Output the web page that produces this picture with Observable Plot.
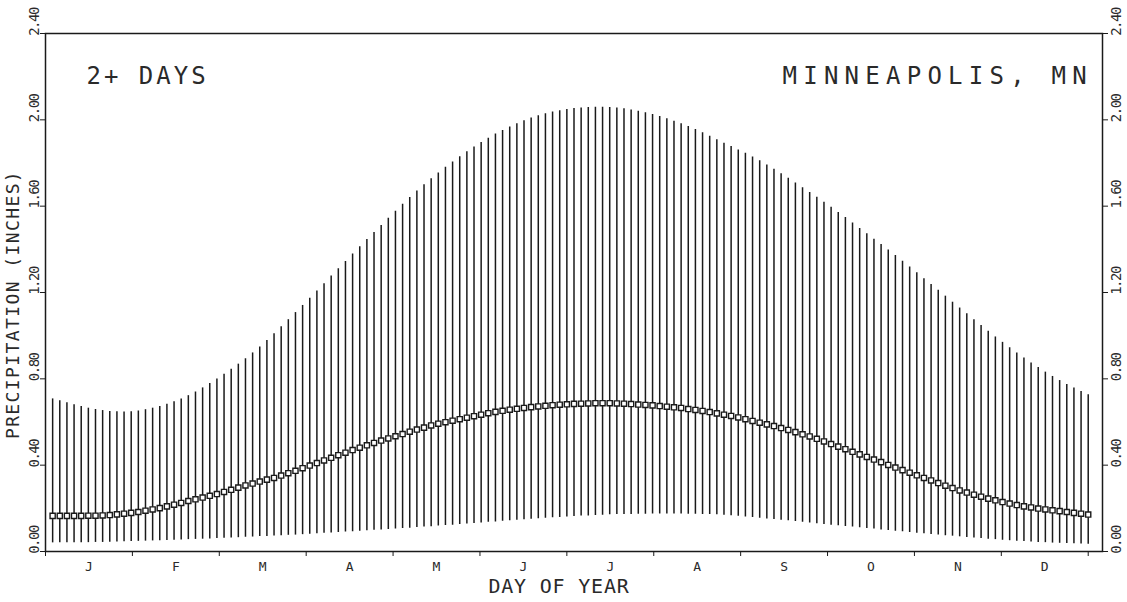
<!DOCTYPE html>
<html><head><meta charset="utf-8">
<script src="https://cdn.jsdelivr.net/npm/d3@7"></script>
<script src="https://cdn.jsdelivr.net/npm/@observablehq/plot@0.6"></script>
<style>body{margin:0;background:#fff;overflow:hidden}</style>
</head><body><div id="chart"></div>
<script>
// Upper end of each bar (inches), one bar every 2.5 days
const highs = [
0.707,0.698,0.689,0.680,0.672,0.664,0.658,0.653,0.649,0.647,
0.646,0.647,0.651,0.657,0.664,0.672,0.682,0.694,0.707,0.722,
0.739,0.758,0.778,0.799,0.821,0.844,0.868,0.893,0.920,0.948,
0.978,1.009,1.041,1.074,1.107,1.140,1.173,1.207,1.241,1.276,
1.310,1.344,1.378,1.412,1.445,1.478,1.511,1.544,1.577,1.609,
1.640,1.670,1.699,1.727,1.754,1.780,1.805,1.829,1.852,1.874,
1.895,1.915,1.934,1.951,1.967,1.982,1.996,2.008,2.019,2.028,
2.036,2.042,2.048,2.052,2.055,2.057,2.058,2.058,2.057,2.055,
2.051,2.046,2.040,2.033,2.025,2.016,2.005,1.994,1.982,1.969,
1.955,1.940,1.924,1.908,1.892,1.876,1.860,1.845,1.828,1.810,
1.791,1.771,1.750,1.729,1.707,1.685,1.663,1.641,1.618,1.595,
1.571,1.547,1.522,1.497,1.472,1.447,1.422,1.397,1.371,1.345,
1.318,1.291,1.264,1.237,1.210,1.183,1.155,1.128,1.101,1.074,
1.047,1.020,0.994,0.969,0.944,0.920,0.896,0.873,0.852,0.831,
0.811,0.792,0.774,0.757,0.741,0.726];
// Lower end of each bar
const lows = [
0.040,0.040,0.040,0.040,0.041,0.041,0.042,0.042,0.043,0.044,
0.045,0.046,0.047,0.048,0.049,0.050,0.051,0.052,0.053,0.055,
0.056,0.057,0.058,0.060,0.061,0.063,0.064,0.066,0.067,0.069,
0.070,0.072,0.073,0.075,0.076,0.078,0.080,0.082,0.084,0.086,
0.088,0.090,0.092,0.094,0.096,0.098,0.100,0.102,0.104,0.106,
0.108,0.111,0.113,0.115,0.118,0.120,0.122,0.125,0.127,0.130,
0.132,0.135,0.137,0.140,0.142,0.145,0.147,0.149,0.152,0.154,
0.156,0.158,0.160,0.162,0.164,0.165,0.167,0.168,0.170,0.171,
0.172,0.172,0.173,0.173,0.174,0.174,0.174,0.174,0.174,0.173,
0.173,0.172,0.171,0.170,0.168,0.166,0.163,0.160,0.157,0.154,
0.151,0.148,0.145,0.142,0.139,0.136,0.132,0.129,0.125,0.122,
0.119,0.116,0.113,0.110,0.107,0.104,0.100,0.097,0.094,0.091,
0.088,0.085,0.082,0.079,0.076,0.073,0.071,0.068,0.065,0.062,
0.060,0.057,0.055,0.052,0.050,0.048,0.046,0.044,0.042,0.041,
0.039,0.038,0.037,0.036,0.035,0.034];
// Mean (square markers)
const means = [
0.165,0.165,0.165,0.165,0.165,0.166,0.166,0.167,0.169,0.172,
0.175,0.179,0.183,0.189,0.195,0.201,0.209,0.217,0.225,0.234,
0.242,0.250,0.258,0.266,0.276,0.286,0.296,0.306,0.315,0.324,
0.333,0.341,0.352,0.363,0.374,0.386,0.398,0.410,0.422,0.434,
0.446,0.458,0.470,0.481,0.492,0.503,0.514,0.524,0.534,0.544,
0.555,0.565,0.574,0.584,0.592,0.599,0.606,0.613,0.620,0.627,
0.634,0.641,0.647,0.652,0.657,0.661,0.665,0.669,0.672,0.675,
0.678,0.680,0.682,0.684,0.685,0.686,0.687,0.687,0.687,0.686,
0.685,0.683,0.681,0.679,0.677,0.674,0.671,0.668,0.665,0.660,
0.656,0.651,0.646,0.640,0.634,0.628,0.621,0.613,0.605,0.597,
0.589,0.581,0.572,0.563,0.553,0.543,0.533,0.522,0.510,0.498,
0.486,0.474,0.462,0.450,0.438,0.426,0.414,0.401,0.389,0.377,
0.365,0.353,0.341,0.329,0.317,0.305,0.294,0.283,0.273,0.263,
0.254,0.245,0.237,0.229,0.222,0.215,0.209,0.204,0.199,0.195,
0.191,0.187,0.183,0.179,0.175,0.171];
const monthLabels = ["J","F","M","A","M","J","J","A","S","O","N","D"];
const yTicks = [0, 0.4, 0.8, 1.2, 1.6, 2.0, 2.4];
const yTickLabels = ["0.00","0.40","0.80","1.20","1.60","2.00","2.40"];
const titleLeft = "2+ DAYS";
const titleRight = "MINNEAPOLIS, MN";
const xTitle = "DAY OF YEAR";
const yTitle = "PRECIPITATION (INCHES)";

const FONT = "DejaVu Sans Mono";
const INK = "#1a1a1a";
const TXT = "#2a2a2a";
const data = highs.map((h, i) => ({day: 2.5 * (i + 1), high: h, low: lows[i], mean: means[i]}));
const monthLen = 365 / 12;
const monthBounds = d3.range(13).map(i => i * monthLen);
const monthMids = monthLabels.map((m, i) => ({label: m, day: (i + 0.5) * monthLen}));

const chart = Plot.plot({
  width: 1127, height: 602,
  marginTop: 33, marginBottom: 51, marginLeft: 45, marginRight: 25,
  style: {background: "#fff", color: INK, fontFamily: FONT},
  x: {domain: [0, 370]},
  y: {domain: [0, 2.4]},
  marks: [
    Plot.ruleX(data, {x: "day", y1: "low", y2: "high", stroke: INK, strokeWidth: 1.5}),
    Plot.dot(data, {x: "day", y: "mean", symbol: "square", r: 2.9, fill: "#fff", stroke: INK, strokeWidth: 1.4}),
    Plot.frame({stroke: INK, strokeWidth: 1.5}),
    Plot.axisX({ticks: monthBounds, tickSize: 5, tickFormat: () => "", label: null, stroke: INK}),
    Plot.axisY({anchor: "left", ticks: yTicks, tickSize: 5, tickFormat: () => "", label: null, stroke: INK}),
    Plot.axisY({anchor: "right", ticks: yTicks, tickSize: 5, tickFormat: () => "", label: null, stroke: INK}),
    Plot.text(monthMids, {x: "day", text: "label", frameAnchor: "bottom", dy: 19, lineAnchor: "bottom", fontSize: 13, fill: TXT}),
    Plot.text(yTicks, {y: d => d, text: (d, i) => yTickLabels[i], frameAnchor: "left", dx: -7, dy: -11.5, rotate: -90, lineAnchor: "bottom", textAnchor: "middle", fontSize: 14, fill: TXT}),
    Plot.text(yTicks, {y: d => d, text: (d, i) => yTickLabels[i], frameAnchor: "right", dx: 18, dy: -11.5, rotate: -90, lineAnchor: "bottom", textAnchor: "middle", fontSize: 14, fill: TXT}),
    Plot.text([titleLeft], {text: d => d, frameAnchor: "top-left", dx: 41, dy: 50, lineAnchor: "bottom", textAnchor: "start", fontSize: 24, fill: TXT}),
    Plot.text([titleRight], {text: d => d, frameAnchor: "top-left", dx: 737, dy: 50, lineAnchor: "bottom", textAnchor: "start", fontSize: 24, fill: TXT}),
    Plot.text([xTitle], {text: d => d, frameAnchor: "bottom", dx: -15, dy: 41, lineAnchor: "bottom", textAnchor: "middle", fontSize: 20, fill: TXT}),
    Plot.text([yTitle], {text: d => d, frameAnchor: "left", dx: -27, dy: 12, rotate: -90, lineAnchor: "bottom", textAnchor: "middle", fontSize: 18, fill: TXT})
  ]
});
// letter spacing per text (Plot's text mark has no option for it)
const spacing = new Map([[titleLeft, 3.0], [titleRight, 6.25], [xTitle, 0.8], [yTitle, 1.4]]);
yTickLabels.forEach(l => spacing.set(l, -1.5));
chart.querySelectorAll("text").forEach(t => {
  const s = spacing.get(t.textContent);
  if (s !== undefined) t.style.letterSpacing = s + "px";
});
document.getElementById("chart").appendChild(chart);
</script>
</body></html>
